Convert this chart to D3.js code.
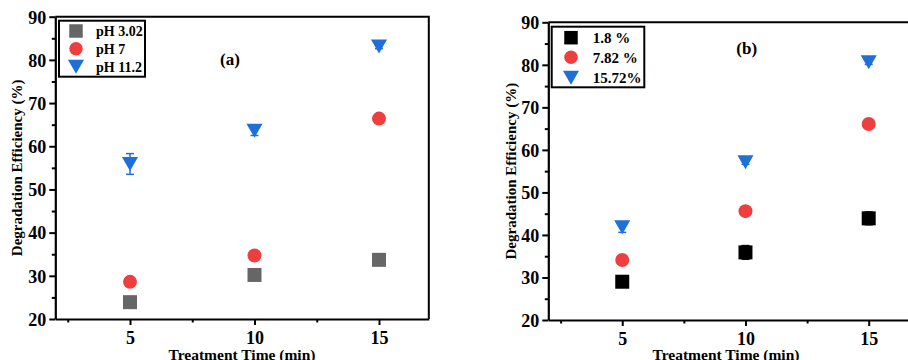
<!DOCTYPE html>
<html>
<head>
<meta charset="utf-8">
<script src="https://cdn.jsdelivr.net/npm/d3@7"></script>
<style>
  html, body { margin: 0; padding: 0; background: #fff; }
  svg { display: block; }
  text { font-family: "Liberation Serif", "Times New Roman", serif; font-weight: bold; fill: #000; }
</style>
</head>
<body>
<svg id="chart" width="908" height="360" font-family="Liberation Serif, serif"></svg>
<script>
// Treatment time (min)
const times = [5, 10, 15];
const xTicks = [5, 10, 15];
const yTicks = [20, 30, 40, 50, 60, 70, 80, 90];

// Panel (a): effect of pH
const phLabels = ["pH 3.02", "pH 7", "pH 11.2"];
const ph302 = [23.9, 30.2, 33.7];
const ph7 = [28.6, 34.7, 66.4];
const ph112 = [55.9, 63.6, 83.1];
const ph302Err = [0.5, 0.6, 0.8];
const ph7Err = [0.5, 0.5, 0.5];
const ph112Err = [2.4, 1.1, 0.5];

// Panel (b): effect of concentration
const concLabels = ["1.8 %", "7.82 %", "15.72%"];
const conc18 = [29.0, 35.9, 43.9];
const conc782 = [34.1, 45.6, 66.1];
const conc1572 = [41.8, 57.1, 80.6];
const conc18Err = [0.8, 1.6, 1.5];
const conc782Err = [0.5, 0.5, 0.5];
const conc1572Err = [1.2, 0.5, 0.5];

const svg = d3.select("#chart");
const SERIF = "Liberation Serif, Times New Roman, serif";

const panels = [
  {
    box: { left: 55.3, right: 428.8, top: 16.7, bottom: 319 },
    tag: "(a)", tagX: 230, tagY: 65,
    yTitleX: 22, xTitleX: 242,
    legend: { x: 59, y: 20.7, w: 86, h: 56, rows: [31, 48.7, 66.7], symX: 76, textX: 96, font: 14 },
    series: [
      { name: phLabels[0], values: ph302, err: ph302Err, shape: "square", color: "#666666" },
      { name: phLabels[1], values: ph7, err: ph7Err, shape: "circle", color: "#ef3e3e" },
      { name: phLabels[2], values: ph112, err: ph112Err, shape: "triangle", color: "#1f6fdb" }
    ]
  },
  {
    box: { left: 548.3, right: 918, top: 22.3, bottom: 320 },
    tag: "(b)", tagX: 746.7, tagY: 53.5,
    yTitleX: 516, xTitleX: 726,
    legend: { x: 551.7, y: 26.7, w: 92.6, h: 60.6, rows: [37.7, 57.3, 77.7], symX: 571, textX: 592.7, font: 15 },
    series: [
      { name: concLabels[0], values: conc18, err: conc18Err, shape: "square", color: "#000000" },
      { name: concLabels[1], values: conc782, err: conc782Err, shape: "circle", color: "#ef3e3e" },
      { name: concLabels[2], values: conc1572, err: conc1572Err, shape: "triangle", color: "#1f6fdb" }
    ]
  }
];

// Marker paths centred on (0,0)
function markerPath(shape, s) {
  if (shape === "square") {
    const h = s / 2;
    return `M${-h},${-h}H${h}V${h}H${-h}Z`;
  }
  if (shape === "circle") {
    const r = s / 2;
    return `M${r},0A${r},${r} 0 1,1 ${-r},0A${r},${r} 0 1,1 ${r},0Z`;
  }
  // downward triangle
  const w = s * 1.15 / 2, h = s / 2;
  return `M${-w},${-h}H${w}L0,${h}Z`;
}

panels.forEach(p => {
  const b = p.box;
  const x = d3.scaleLinear().domain([2, 17]).range([b.left, b.right]);
  const y = d3.scaleLinear().domain([20, 90]).range([b.bottom, b.top]);
  const g = svg.append("g");

  // frame (top and right)
  g.append("path")
    .attr("d", `M${b.left},${b.top}H${b.right}V${b.bottom}`)
    .attr("fill", "none").attr("stroke", "#000").attr("stroke-width", 2);

  // minor ticks
  const xMinor = [2.5, 7.5, 12.5];
  const yMinor = [25, 35, 45, 55, 65, 75, 85];
  g.append("g").attr("transform", `translate(0,${b.bottom})`)
    .call(d3.axisBottom(x).tickValues(xMinor).tickSize(3.5).tickFormat(""))
    .call(a => a.select(".domain").remove())
    .call(a => a.selectAll("line").attr("stroke-width", 2));
  g.append("g").attr("transform", `translate(${b.left},0)`)
    .call(d3.axisLeft(y).tickValues(yMinor).tickSize(3.5).tickFormat(""))
    .call(a => a.select(".domain").remove())
    .call(a => a.selectAll("line").attr("stroke-width", 2));

  // major axes
  const xa = g.append("g").attr("transform", `translate(0,${b.bottom})`)
    .call(d3.axisBottom(x).tickValues(xTicks).tickSize(6).tickPadding(6).tickSizeOuter(0).tickFormat(d3.format("d")));
  xa.attr("font-family", SERIF);
  xa.select(".domain").attr("stroke-width", 2.2);
  xa.selectAll("line").attr("stroke-width", 2);
  xa.selectAll("text").attr("font-size", 18).attr("font-family", SERIF).attr("dy", "0.71em");

  const ya = g.append("g").attr("transform", `translate(${b.left},0)`)
    .call(d3.axisLeft(y).tickValues(yTicks).tickSize(6).tickPadding(3).tickSizeOuter(0).tickFormat(d3.format("d")));
  ya.attr("font-family", SERIF);
  ya.select(".domain").attr("stroke-width", 2.2);
  ya.selectAll("line").attr("stroke-width", 2);
  ya.selectAll("text").attr("font-size", 18).attr("font-family", SERIF).attr("dy", "0.35em");

  // axis titles
  g.append("text")
    .attr("x", p.xTitleX)
    .attr("y", 360)
    .attr("text-anchor", "middle").attr("font-size", 15.5)
    .text("Treatment Time (min)");
  g.append("text")
    .attr("transform", `translate(${p.yTitleX},${(b.top + b.bottom) / 2}) rotate(-90)`)
    .attr("text-anchor", "middle").attr("font-size", 15)
    .text("Degradation Efficiency (%)");

  // panel tag
  g.append("text").attr("x", p.tagX).attr("y", p.tagY)
    .attr("text-anchor", "middle").attr("font-size", 17).text(p.tag);

  // error bars and markers
  p.series.forEach(s => {
    const pts = times.map((t, i) => ({ t, v: s.values[i], e: s.err[i] }));
    const eg = g.append("g").attr("stroke", s.color).attr("stroke-width", 1.5);
    pts.forEach(d => {
      const cx = x(d.t), y1 = y(d.v + d.e), y0 = y(d.v - d.e);
      eg.append("line").attr("x1", cx).attr("x2", cx).attr("y1", y1).attr("y2", y0);
      eg.append("line").attr("x1", cx - 4).attr("x2", cx + 4).attr("y1", y1).attr("y2", y1);
      eg.append("line").attr("x1", cx - 4).attr("x2", cx + 4).attr("y1", y0).attr("y2", y0);
    });
    g.append("g").selectAll("path").data(pts).join("path")
      .attr("transform", d => `translate(${x(d.t)},${y(d.v)})`)
      .attr("d", markerPath(s.shape, 14))
      .attr("fill", s.color);
  });

  // legend
  const L = p.legend;
  const lg = g.append("g");
  lg.append("rect").attr("x", L.x).attr("y", L.y).attr("width", L.w).attr("height", L.h)
    .attr("fill", "#fff").attr("stroke", "#000").attr("stroke-width", 2);
  p.series.forEach((s, i) => {
    lg.append("path")
      .attr("transform", `translate(${L.symX},${L.rows[i]})`)
      .attr("d", markerPath(s.shape, s.shape === "triangle" ? 14 : 13.5))
      .attr("fill", s.color);
    lg.append("text").attr("x", L.textX).attr("y", L.rows[i]).attr("dy", "0.35em")
      .attr("font-size", L.font).text(s.name);
  });
});
</script>
</body>
</html>
